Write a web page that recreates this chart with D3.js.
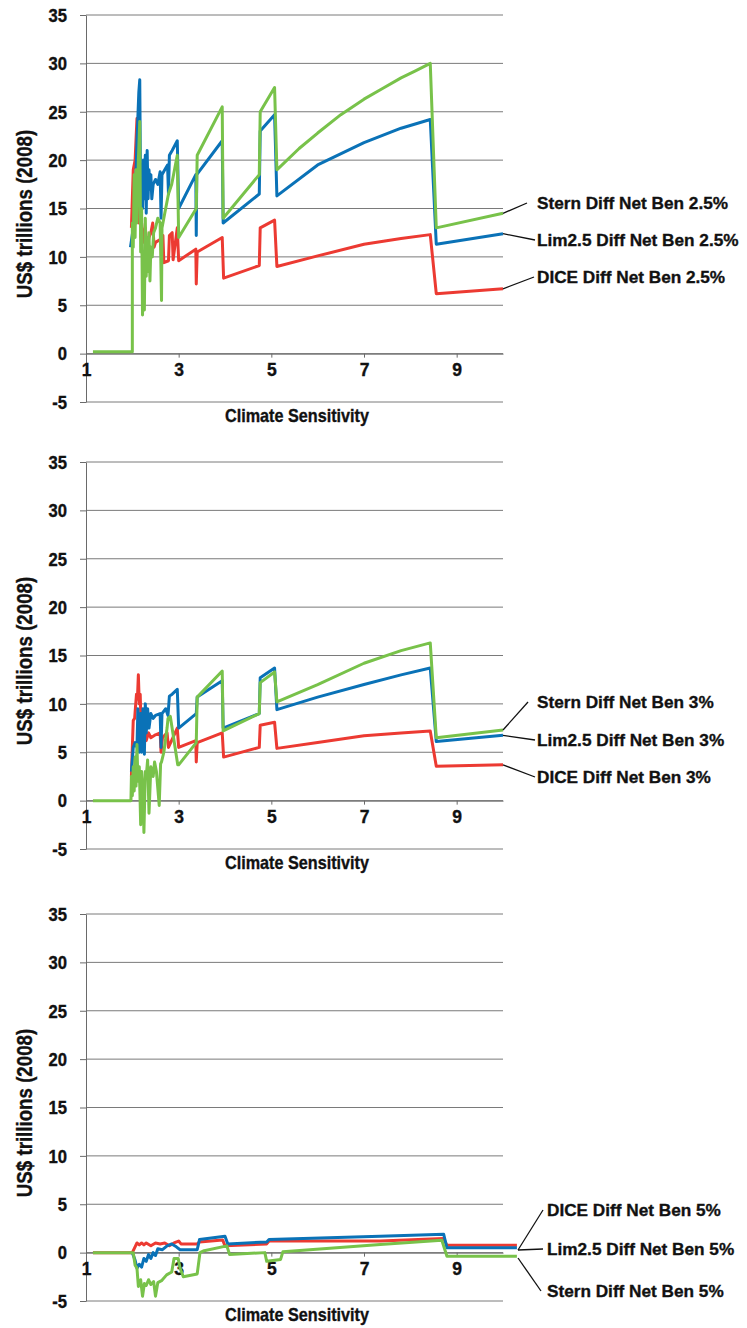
<!DOCTYPE html>
<html>
<head>
<meta charset="utf-8">
<style>
  body { margin: 0; background: #fff; }
  svg text { font-family: "Liberation Sans", Arial, "Noto Sans", sans-serif; font-weight: bold; fill: #111; stroke: #111; stroke-width: 0.35px; }
</style>
</head>
<body>
<svg></svg>
<script src="https://cdnjs.cloudflare.com/ajax/libs/d3/7.8.5/d3.min.js"></script>
<script>
// axis ticks
const xTicks = [1, 3, 5, 7, 9];
const yTicks = [-5, 0, 5, 10, 15, 20, 25, 30, 35];

// discount rate 2.5%  -- [climate sensitivity, US$ trillions]
const dice25 = [[1.98,13],[2.02,19],[2.06,20],[2.1,24.3],[2.12,18],[2.14,13.5],[2.16,19],[2.18,12],[2.2,13.5],[2.24,11.5],[2.28,13],[2.32,11],[2.36,12],[2.4,12.5],[2.44,13.5],[2.47,11],[2.5,11.5],[2.6,11.8],[2.66,12.2],[2.68,9.4],[2.78,9.6],[2.8,12.2],[2.86,12.5],[2.88,9.7],[2.97,13],[3.0,9.6],[3.37,10.8],[3.38,7.2],[3.4,10.5],[3.94,12],[3.97,7.8],[4.74,9.1],[4.76,13],[5.07,13.8],[5.12,9],[6.0,10.1],[7.0,11.3],[7.8,11.9],[8.43,12.3],[8.56,6.2],[10,6.7]];
const lim25 = [[1.96,11],[2.02,13],[2.06,15.5],[2.1,22],[2.14,27],[2.16,28.3],[2.18,15.5],[2.2,19.5],[2.22,15],[2.24,20],[2.26,16],[2.28,20.5],[2.3,14.5],[2.32,21],[2.34,16],[2.36,19],[2.38,17],[2.4,18.5],[2.42,16],[2.45,17.5],[2.5,18],[2.55,17.5],[2.6,18.8],[2.62,14],[2.64,18.5],[2.7,19],[2.76,19.5],[2.78,16.5],[2.8,20.5],[2.86,21],[2.97,22],[3.0,15],[3.37,18.5],[3.38,12.2],[3.39,18.5],[3.94,22],[3.96,13.5],[4.74,16.5],[4.76,23],[5.07,24.7],[5.12,16.3],[6.0,19.5],[7.0,21.8],[7.8,23.3],[8.43,24.2],[8.56,11.3],[10,12.4]];
const stern25 = [[1.15,0.2],[2.0,0.2],[2.0,13.5],[2.02,11],[2.04,18.5],[2.06,12],[2.08,19],[2.1,13.5],[2.13,20],[2.16,24],[2.18,10.5],[2.2,15],[2.22,4],[2.24,9.5],[2.26,4.5],[2.28,14],[2.3,8],[2.32,12],[2.34,8.5],[2.36,12.5],[2.38,7.5],[2.4,11],[2.43,10],[2.46,12.5],[2.5,13],[2.55,14],[2.6,13.5],[2.63,5.5],[2.64,13],[2.7,14.5],[2.78,16.5],[2.85,17.5],[2.97,20.5],[3.0,12],[3.38,15],[3.4,20.5],[3.94,25.5],[3.96,14],[4.74,18.5],[4.76,25],[5.07,27.5],[5.12,19],[5.6,21.2],[6.0,22.8],[6.5,24.7],[7.0,26.3],[7.4,27.4],[7.8,28.5],[8.1,29.2],[8.43,30],[8.56,13],[10,14.5]];

// discount rate 3%
const dice3 = [[1.98,2.5],[2.0,5.5],[2.02,8.3],[2.05,8.5],[2.07,9.8],[2.09,11],[2.11,10.5],[2.13,13],[2.15,10],[2.17,11],[2.19,7.3],[2.21,9],[2.23,6],[2.26,7.5],[2.3,6.2],[2.35,7],[2.4,6.5],[2.5,6.8],[2.6,7],[2.62,5],[2.65,6.5],[2.75,7],[2.78,5.5],[2.97,7.5],[3.0,5.5],[3.37,6.2],[3.38,4],[3.4,6],[3.94,7],[3.97,4.5],[4.74,5.5],[4.76,7.8],[5.07,8.1],[5.12,5.4],[6.0,6.0],[7.0,6.7],[7.8,7.0],[8.43,7.2],[8.56,3.55],[10,3.7]];
const lim3 = [[1.98,3],[2.02,5.5],[2.06,6],[2.1,5.5],[2.12,9.5],[2.15,5],[2.18,9],[2.2,5],[2.23,9.5],[2.26,4.8],[2.28,10],[2.3,7],[2.33,9.5],[2.36,7.5],[2.4,9],[2.45,8.5],[2.5,8.8],[2.6,9],[2.62,5.5],[2.64,9],[2.72,9.5],[2.77,8.8],[2.8,10.8],[2.86,11],[2.97,11.5],[3.0,7.5],[3.38,9],[3.4,10.7],[3.94,12.4],[3.96,7.5],[4.74,9],[4.76,12.7],[5.07,13.7],[5.12,9.4],[6.0,10.7],[7.0,12.0],[7.8,13.0],[8.43,13.7],[8.56,6.1],[10,6.75]];
const stern3 = [[1.15,0],[1.97,0],[1.98,2.5],[2.0,0.5],[2.02,3.5],[2.04,1],[2.06,4.5],[2.08,1.5],[2.1,5.8],[2.12,2],[2.15,3.5],[2.18,-2.5],[2.2,3],[2.23,1],[2.25,-3.3],[2.28,3],[2.3,2.5],[2.33,4.2],[2.36,-1.3],[2.4,3.5],[2.45,2.5],[2.48,4],[2.52,3],[2.58,-0.5],[2.61,3.8],[2.63,4],[2.68,5],[2.75,7.5],[2.77,8.5],[2.82,8.7],[2.98,3.7],[3.0,3.7],[3.38,6],[3.4,10.7],[3.94,13.4],[3.96,7.2],[4.74,9],[4.76,12.2],[5.07,13.3],[5.12,10.2],[6.0,12.0],[7.0,14.2],[7.8,15.5],[8.43,16.3],[8.56,6.5],[10,7.3]];

// discount rate 5%
const dice5 = [[1.15,0],[2.0,0],[2.1,1.0],[2.15,0.8],[2.2,1.0],[2.25,0.8],[2.3,1.0],[2.4,0.7],[2.5,1.0],[2.6,0.9],[2.7,1.0],[2.8,0.7],[2.9,1.0],[3.0,1.2],[3.05,0.9],[3.4,0.9],[3.45,1.1],[3.95,1.3],[4.0,0.7],[4.9,0.9],[4.95,1.2],[7.35,1.2],[8.72,1.45],[8.79,0.75],[10.3,0.75]];
const lim5 = [[2.0,0],[2.06,-0.8],[2.1,-1.6],[2.15,-1.2],[2.2,-1.5],[2.25,-0.6],[2.3,-0.9],[2.35,-0.2],[2.4,-0.6],[2.45,0],[2.5,-0.3],[2.55,0.4],[2.65,0.3],[2.75,0.7],[2.85,0.9],[2.95,0.6],[3.03,0.3],[3.4,0.3],[3.45,1.35],[4.0,1.7],[4.06,0.9],[4.9,1.1],[4.95,1.35],[7.35,1.7],[8.72,1.9],[8.79,0.5],[10.3,0.5]];
const stern5 = [[1.15,0],[2.02,0],[2.06,-1.3],[2.1,-1.6],[2.13,-3.5],[2.18,-2.8],[2.22,-4.5],[2.26,-3.2],[2.3,-3.4],[2.35,-2.8],[2.4,-3.3],[2.46,-3.0],[2.5,-4.5],[2.55,-3.1],[2.63,-2.9],[2.74,-2.3],[2.85,-2.0],[2.9,-0.6],[2.99,-0.6],[3.03,-1.6],[3.1,-2.5],[3.4,-2.2],[3.46,0.0],[3.55,0.2],[4.04,0.7],[4.1,-0.2],[4.86,0],[4.9,-0.9],[5.2,-0.7],[5.25,0.1],[7.35,0.85],[8.68,1.28],[8.79,-0.37],[10.3,-0.37]];

const red = '#ec3a32', blue = '#0a72b7', green = '#78c24a';

const panels = [
  { top: 15, series: [
      { data: dice25, color: red, label: 'DICE Diff Net Ben 2.5%', lx: 534, ly: 262 },
      { data: lim25, color: blue, label: 'Lim2.5 Diff Net Ben 2.5%', lx: 535, ly: 225 },
      { data: stern25, color: green, label: 'Stern Diff Net Ben 2.5%', lx: 527, ly: 188 } ] },
  { top: 462, series: [
      { data: dice3, color: red, label: 'DICE Diff Net Ben 3%', lx: 535, ly: 315 },
      { data: lim3, color: blue, label: 'Lim2.5 Diff Net Ben 3%', lx: 535, ly: 278 },
      { data: stern3, color: green, label: 'Stern Diff Net Ben 3%', lx: 528, ly: 240 } ] },
  { top: 914, series: [
      { data: dice5, color: red, label: 'DICE Diff Net Ben 5%', lx: 543, ly: 296, from: [518, 336] },
      { data: lim5, color: blue, label: 'Lim2.5 Diff Net Ben 5%', lx: 543, ly: 335, from: [518, 336] },
      { data: stern5, color: green, label: 'Stern Diff Net Ben 5%', lx: 541, ly: 377, from: [518, 344] } ] }
];

// squeeze text horizontally to mimic the condensed face of the original
function condense(sel, k) {
  sel.each(function () {
    const w = this.getComputedTextLength();
    d3.select(this).attr('textLength', w * k).attr('lengthAdjust', 'spacingAndGlyphs');
  });
}

const svg = d3.select('svg').attr('width', 747).attr('height', 1328);
const x = d3.scaleLinear().domain([1, 10]).range([86, 503]);
const plotH = 387;

panels.forEach(p => {
  const y = d3.scaleLinear().domain([-5, 35]).range([p.top + plotH, p.top]);
  const g = svg.append('g');

  // horizontal grid
  g.selectAll('.grid').data(yTicks).enter().append('line')
    .attr('x1', x(1)).attr('x2', x(10))
    .attr('y1', d => y(d)).attr('y2', d => y(d))
    .style('stroke', '#7a7a7a').style('stroke-width', 1);

  const ya = g.append('g').attr('transform', `translate(${x(1)},0)`)
    .call(d3.axisLeft(y).tickValues(yTicks).tickFormat(d => String(d))
      .tickSize(6).tickSizeOuter(0).tickPadding(13));
  ya.attr('font-family', null).attr('font-size', null);
  ya.selectAll('line, path').style('stroke', '#6a6a6a');
  ya.selectAll('text').style('font-size', '17.5px').attr('dy', '0.36em');
  condense(ya.selectAll('text'), 0.95);

  const xa = g.append('g').attr('transform', `translate(0,${y(0)})`)
    .call(d3.axisBottom(x).tickValues(xTicks).tickSize(4).tickSizeOuter(0).tickPadding(6));
  xa.attr('font-family', null).attr('font-size', null);
  xa.selectAll('line, path').style('stroke', '#6a6a6a');
  xa.selectAll('text').style('font-size', '17.5px');

  const xt = g.append('text').attr('x', 297).attr('y', y(-5) + 20)
    .attr('text-anchor', 'middle').style('font-size', '18.5px').text('Climate Sensitivity');
  condense(xt, 0.875);

  const yt = g.append('text').attr('transform', `translate(32,${p.top + 199}) rotate(-90)`)
    .attr('text-anchor', 'middle').style('font-size', '22px').text('US$ trillions (2008)');
  condense(yt, 0.85);

  const line = d3.line().x(d => x(d[0])).y(d => y(d[1]));
  p.series.forEach(s => {
    g.append('path').datum(s.data).attr('d', line)
      .style('fill', 'none').style('stroke', s.color)
      .style('stroke-width', 3).style('stroke-linejoin', 'round');

    const last = s.data[s.data.length - 1];
    const fx = s.from ? s.from[0] : x(last[0]);
    const fy = s.from ? p.top + s.from[1] : y(last[1]);
    g.append('line').attr('x1', fx).attr('y1', fy)
      .attr('x2', s.lx).attr('y2', p.top + s.ly)
      .style('stroke', '#111').style('stroke-width', 1.3);
    g.append('text').attr('x', (s.from ? 547 : 537)).attr('y', p.top + s.ly)
      .attr('dy', '0.36em').style('font-size', '17.2px').text(s.label);
  });
});
</script>
</body>
</html>
